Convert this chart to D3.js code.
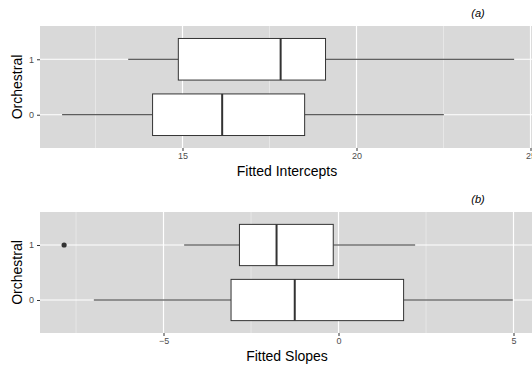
<!DOCTYPE html>
<html>
<head>
<meta charset="utf-8">
<script src="https://cdn.jsdelivr.net/npm/d3@7"></script>
<style>
  body { margin: 0; background: #fff; }
  svg { display: block; font-family: "Liberation Sans", Arial, sans-serif; }
</style>
</head>
<body>
<svg id="chart" width="532" height="367"></svg>
<script>
const categories = ["0", "1"];

// panel (a): fitted intercepts
const interceptStats = [
  { group: "0", low: 11.54, q1: 14.14, median: 16.14, q3: 18.51, high: 22.51, outliers: [] },
  { group: "1", low: 13.44, q1: 14.88, median: 17.82, q3: 19.11, high: 24.53, outliers: [] },
];
const interceptTicks = [15, 20, 25];

// panel (b): fitted slopes
const slopeStats = [
  { group: "0", low: -6.99, q1: -3.07, median: -1.25, q3: 1.86, high: 4.98, outliers: [] },
  { group: "1", low: -4.41, q1: -2.83, median: -1.77, q3: -0.15, high: 2.19, outliers: [-7.84] },
];
const slopeTicks = [-5, 0, 5];

const panels = [
  { tag: "(a)", label: "Fitted Intercepts", stats: interceptStats, ticks: interceptTicks,
    domain: [15, 25], range: [182.5, 530.5], top: 26, bottom: 148 },
  { tag: "(b)", label: "Fitted Slopes", stats: slopeStats, ticks: slopeTicks,
    domain: [-5, 5], range: [163.5, 513.5], top: 212, bottom: 333 },
];

const svg = d3.select("#chart");
const plotLeft = 40;
const plotRight = 534;

panels.forEach((p) => {
  const x = d3.scaleLinear().domain(p.domain).range(p.range);

  // ggplot-style discrete axis: 0.6 step of padding each side
  const y = d3.scalePoint().domain(categories.slice().reverse())
    .range([p.top, p.bottom]).padding(0.6);
  const boxH = y.step() * 0.75;

  const g = svg.append("g");

  g.append("rect")
    .attr("x", plotLeft).attr("y", p.top)
    .attr("width", plotRight - plotLeft).attr("height", p.bottom - p.top)
    .attr("fill", "#d9d9d9");

  // minor grid (half-way between major ticks)
  const step = p.ticks[1] - p.ticks[0];
  const minor = [p.ticks[0] - step / 2].concat(p.ticks.map((t) => t + step / 2));
  g.selectAll(".minor").data(minor).join("line")
    .attr("x1", (d) => x(d)).attr("x2", (d) => x(d))
    .attr("y1", p.top).attr("y2", p.bottom)
    .attr("stroke", "#f0f0f0").attr("stroke-width", 0.6);

  g.selectAll(".major").data(p.ticks).join("line")
    .attr("x1", (d) => x(d)).attr("x2", (d) => x(d))
    .attr("y1", p.top).attr("y2", p.bottom)
    .attr("stroke", "#ffffff").attr("stroke-width", 1.2);

  g.selectAll(".hgrid").data(categories).join("line")
    .attr("x1", plotLeft).attr("x2", plotRight)
    .attr("y1", (d) => y(d)).attr("y2", (d) => y(d))
    .attr("stroke", "#ffffff").attr("stroke-width", 1.2);

  // boxplots
  const box = g.selectAll(".box").data(p.stats).join("g");
  box.append("line")
    .attr("x1", (d) => x(d.low)).attr("x2", (d) => x(d.q1))
    .attr("y1", (d) => y(d.group)).attr("y2", (d) => y(d.group))
    .attr("stroke", "#333333").attr("stroke-width", 1);
  box.append("line")
    .attr("x1", (d) => x(d.q3)).attr("x2", (d) => x(d.high))
    .attr("y1", (d) => y(d.group)).attr("y2", (d) => y(d.group))
    .attr("stroke", "#333333").attr("stroke-width", 1);
  box.append("rect")
    .attr("x", (d) => x(d.q1)).attr("width", (d) => x(d.q3) - x(d.q1))
    .attr("y", (d) => y(d.group) - boxH / 2).attr("height", boxH)
    .attr("fill", "#ffffff").attr("stroke", "#333333").attr("stroke-width", 1);
  box.append("line")
    .attr("x1", (d) => x(d.median)).attr("x2", (d) => x(d.median))
    .attr("y1", (d) => y(d.group) - boxH / 2).attr("y2", (d) => y(d.group) + boxH / 2)
    .attr("stroke", "#333333").attr("stroke-width", 2);
  box.selectAll("circle").data((d) => d.outliers.map((v) => ({ v, group: d.group }))).join("circle")
    .attr("cx", (d) => x(d.v)).attr("cy", (d) => y(d.group)).attr("r", 2.6)
    .attr("fill", "#333333");

  // axes
  const xAxis = g.append("g")
    .attr("transform", `translate(0,${p.bottom})`)
    .call(d3.axisBottom(x).tickValues(p.ticks).tickSize(3).tickPadding(2));
  xAxis.select(".domain").remove();
  xAxis.selectAll(".tick line").attr("stroke", "#333333");
  xAxis.selectAll(".tick text").attr("fill", "#4d4d4d").style("font-size", "9px");

  const yAxis = g.append("g")
    .attr("transform", `translate(${plotLeft},0)`)
    .call(d3.axisLeft(y).tickSize(3).tickPadding(3));
  yAxis.select(".domain").remove();
  yAxis.selectAll(".tick line").attr("stroke", "#333333");
  yAxis.selectAll(".tick text").attr("fill", "#4d4d4d").style("font-size", "9px");

  g.append("text")
    .attr("x", (plotLeft + plotRight) / 2).attr("y", p.bottom + 28)
    .attr("text-anchor", "middle").style("font-size", "14px").attr("fill", "#000")
    .text(p.label);

  g.append("text")
    .attr("transform", `translate(22,${(p.top + p.bottom) / 2}) rotate(-90)`)
    .attr("text-anchor", "middle").style("font-size", "14px").attr("fill", "#000")
    .text("Orchestral");

  g.append("text")
    .attr("x", 478).attr("y", p.top - 9)
    .attr("text-anchor", "middle").style("font-size", "11px").style("font-style", "italic")
    .attr("fill", "#000")
    .text(p.tag);
});
</script>
</body>
</html>
